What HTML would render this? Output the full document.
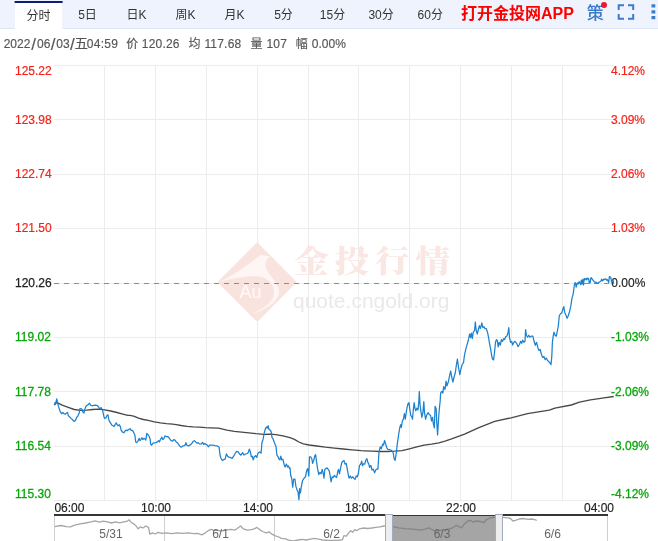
<!DOCTYPE html>
<html lang="zh-CN">
<head>
<meta charset="utf-8">
<title>分时图</title>
<style>
html,body{margin:0;padding:0;background:#fff;}
body{width:658px;height:541px;overflow:hidden;position:relative;font-family:"Liberation Sans","Noto Sans CJK SC",sans-serif;}
#tabs{position:absolute;left:0;top:0;width:658px;height:28px;background:#eef3fd;border-bottom:1px solid #dde6f6;}
.tab{position:absolute;top:0;height:28px;width:49px;text-align:center;font-size:12px;line-height:30px;color:#333;}
.tab.on{height:27px;line-height:27px;top:3px;width:48px;left:14.6px;}
#app{position:absolute;left:461px;top:0;height:28px;line-height:27px;font-size:16px;font-weight:bold;color:#f00;white-space:nowrap;}
#ce{position:absolute;left:586.8px;top:0;height:28px;line-height:27.5px;font-size:17px;font-weight:500;color:#3c7bc9;}
#dot{position:absolute;left:601px;top:2px;width:6px;height:6px;border-radius:50%;background:#f0142d;}
svg{position:absolute;left:0;top:0;will-change:transform;}
#tabs{will-change:transform;}
</style>
</head>
<body>
<div id="tabs">
  <svg width="80" height="30" viewBox="0 0 80 30" style="will-change:auto"><rect x="14.1" y="1" width="49" height="28" fill="#dfe6f6"/><rect x="14.6" y="1" width="48" height="29" fill="#fff"/><rect x="14.6" y="1" width="48" height="2" fill="#0a1f7a"/></svg>
  <div class="tab on">分时</div>
  <div class="tab" style="left:63px">5日</div>
  <div class="tab" style="left:112px">日K</div>
  <div class="tab" style="left:161px">周K</div>
  <div class="tab" style="left:210px">月K</div>
  <div class="tab" style="left:259px">5分</div>
  <div class="tab" style="left:308px">15分</div>
  <div class="tab" style="left:356.6px">30分</div>
  <div class="tab" style="left:405.8px">60分</div>
  <div id="app">打开金投网APP</div>
  <div id="ce">策</div>
  <div id="dot"></div>
</div>

<svg id="chart" width="658" height="541" viewBox="0 0 658 541" font-family="Liberation Sans, Noto Sans CJK SC, sans-serif" font-size="12">
  <!-- info row -->
  <g fill="#555" stroke="#555" stroke-width="0.15">
    <text><tspan x="3.7" y="48">2022</tspan><tspan x="31.3" y="49.6" font-size="17">/</tspan><tspan x="37" y="48">06</tspan><tspan x="50.7" y="49.6" font-size="17">/</tspan><tspan x="56.3" y="48">03</tspan><tspan x="70" y="49.6" font-size="17">/</tspan><tspan x="74.6" y="48.4" font-size="13.5">五</tspan><tspan x="86.8" y="48" letter-spacing="0.25">04:59</tspan></text>
    <text><tspan x="126.2" y="48">价</tspan><tspan x="141.8" y="48" letter-spacing="0.2">120.26</tspan></text>
    <text><tspan x="188.5" y="48">均</tspan><tspan x="204.4" y="48" letter-spacing="0.2">117.68</tspan></text>
    <text><tspan x="250.5" y="48">量</tspan><tspan x="266.4" y="48" letter-spacing="0.2">107</tspan></text>
    <text><tspan x="295.7" y="48">幅</tspan><tspan x="311.8" y="48">0.00%</tspan></text>
  </g>
  <!-- toolbar icons -->
  <g fill="none" stroke="#3c7bc9" stroke-width="2">
    <path d="M618.7 10V5.3H624M628 5.3H633.2V10M633.2 14V18.8H628M624 18.8H618.7V14"/>
  </g>
  <g fill="#3c7bc9"><rect x="651.5" y="4.3" width="3.8" height="3.2"/><rect x="651.5" y="10.3" width="3.8" height="3.2"/><rect x="651.5" y="16" width="3.8" height="3.2"/></g>
  <!-- grid -->
  <g id="grid" fill="#ececec"><rect x="53.5" y="65" width="560.2" height="1"/><rect x="53.5" y="119" width="560.2" height="1"/><rect x="53.5" y="174" width="560.2" height="1"/><rect x="53.5" y="228" width="560.2" height="1"/><rect x="53.5" y="283" width="560.2" height="1"/><rect x="53.5" y="337" width="560.2" height="1"/><rect x="53.5" y="391" width="560.2" height="1"/><rect x="53.5" y="446" width="560.2" height="1"/><rect x="53.5" y="500" width="560.2" height="1"/><rect x="104" y="65" width="1" height="436"/><rect x="155" y="65" width="1" height="436"/><rect x="206" y="65" width="1" height="436"/><rect x="257" y="65" width="1" height="436"/><rect x="308" y="65" width="1" height="436"/><rect x="358" y="65" width="1" height="436"/><rect x="409" y="65" width="1" height="436"/><rect x="460" y="65" width="1" height="436"/><rect x="511" y="65" width="1" height="436"/><rect x="562" y="65" width="1" height="436"/></g>
  <!-- watermark -->
  <g id="wm">
    <path d="M255.6 243.8 Q257.2 242.4 258.8 243.8 L295.2 280.6 Q296.6 282.2 295.2 283.8 L258.8 320.6 Q257.2 322 255.6 320.6 L219 283.8 Q217.6 282.2 219 280.6 Z" fill="#f9e3df"/>
    <path d="M219.7 281.8 C233.9 275.3 248 265.1 260.6 254.9 L270 256.2 C266.1 259.6 264.5 263.6 266.1 268.3 C268.4 274.6 276.3 280.8 279.1 290.3 C280.2 299.7 268.4 309.1 251.9 314.2 C265.3 307.6 274.4 301.3 274.1 291.8 C273.8 284 268.4 277.7 259 276.4 C246.4 275.5 232.3 278.5 219.7 281.8 Z" fill="#fef6f4"/>
    <text x="239.6" y="297.5" font-size="18" fill="#fffaf9">Au</text>
    <text transform="translate(294 272.2) scale(1.05 0.93)" x="0" y="0" font-family="Noto Serif CJK SC, Noto Sans CJK SC, serif" font-weight="900" font-size="33" letter-spacing="5.6" fill="#fae6e2">金投行情</text>
    <text x="293" y="307.5" font-size="21" fill="#e9e9e9">quote.cngold.org</text>
  </g>
  <path d="M54 283.5H611" stroke="#8c8c8c" stroke-dasharray="5 5" stroke-width="1" shape-rendering="crispEdges"/>
  <!-- left labels -->
  <g fill="#f5221a" stroke="#f5221a" stroke-width="0.2">
    <text x="15" y="75">125.22</text>
    <text x="15" y="124">123.98</text>
    <text x="15" y="178">122.74</text>
    <text x="15" y="232">121.50</text>
  </g>
  <text x="15" y="287" fill="#222" stroke="#222" stroke-width="0.25">120.26</text>
  <g fill="#0aa50a" stroke="#0aa50a" stroke-width="0.28">
    <text x="15" y="341">119.02</text>
    <text x="15" y="396">117.78</text>
    <text x="15" y="450">116.54</text>
    <text x="15" y="498">115.30</text>
  </g>
  <!-- right labels -->
  <g fill="#f5221a" stroke="#f5221a" stroke-width="0.2">
    <text x="611" y="75">4.12%</text>
    <text x="611" y="124">3.09%</text>
    <text x="611" y="178">2.06%</text>
    <text x="611" y="232">1.03%</text>
  </g>
  <text x="611.3" y="287" fill="#222" stroke="#222" stroke-width="0.15">0.00%</text>
  <g fill="#0aa50a" stroke="#0aa50a" stroke-width="0.28">
    <text x="611" y="341">-1.03%</text>
    <text x="611" y="396">-2.06%</text>
    <text x="611" y="450">-3.09%</text>
    <text x="611" y="498">-4.12%</text>
  </g>
  <!-- x labels -->
  <g fill="#222" stroke="#222" stroke-width="0.15">
    <text x="54.4" y="512">06:00</text>
    <text x="156" y="512" text-anchor="middle">10:00</text>
    <text x="258" y="512" text-anchor="middle">14:00</text>
    <text x="360" y="512" text-anchor="middle">18:00</text>
    <text x="461" y="512" text-anchor="middle">22:00</text>
    <text x="614" y="512" text-anchor="end">04:00</text>
  </g>
  <!-- series -->
  <path d="M54.5 404.0 L56.1 402.2 L62.2 405.2 L68.2 407.4 L74.3 409.5 L80.4 410.3 L86.5 410.1 L92.6 409.5 L98.6 409.2 L104.7 409.8 L110.8 411.0 L116.9 412.5 L122.9 414.1 L127.8 415.3 L130.0 415.4 L133.6 416.2 L138.5 418.2 L143.4 419.5 L148.2 420.4 L154.3 421.9 L160.4 422.9 L166.5 423.6 L172.6 424.1 L176.2 424.6 L181.1 425.5 L187.1 426.3 L193.2 426.9 L199.3 427.2 L205.4 427.7 L210.0 427.9 L218.5 428.2 L227.0 430.1 L234.3 431.3 L241.6 432.1 L248.9 432.9 L256.2 433.7 L263.5 434.3 L270.8 434.1 L275.7 434.6 L282.9 435.9 L290.0 437.6 L294.4 439.3 L298.9 442.0 L303.3 443.8 L309.2 445.0 L316.6 446.0 L325.5 447.2 L334.4 448.2 L343.2 449.0 L352.1 449.8 L361.0 450.7 L365.0 450.9 L372.4 451.2 L379.8 451.5 L387.2 451.5 L394.6 451.2 L402.0 450.6 L409.4 448.8 L416.8 446.9 L424.1 445.1 L431.5 444.1 L438.9 442.9 L445.0 441.2 L450.9 439.2 L464.6 434.2 L478.3 427.9 L494.7 421.4 L511.1 417.8 L527.5 413.7 L549.4 410.2 L554.9 408.2 L571.3 405.0 L579.5 402.2 L590.4 399.8 L604.1 397.9 L613.7 396.5" fill="none" stroke="#484848" stroke-width="1.35" stroke-linejoin="round"/>
  <path d="M54.3 405.2 L55.1 402.8 L55.6 404.5 L56.7 398.8 L57.5 402.2 L58.5 406.4 L60.3 411.9 L61.5 413.7 L62.8 412.5 L64.0 413.7 L65.2 414.3 L66.4 413.1 L67.6 412.5 L68.2 415.5 L69.5 416.7 L71.3 418.6 L72.5 419.8 L74.0 421.4 L75.5 420.2 L76.7 417.4 L78.2 415.3 L79.2 413.1 L79.8 408.8 L81.0 408.5 L81.9 409.2 L82.8 411.9 L84.0 413.1 L84.7 409.5 L85.9 406.4 L87.1 405.2 L88.3 404.6 L89.5 403.1 L90.7 405.2 L91.9 405.8 L93.8 405.4 L95.6 405.2 L97.4 405.6 L98.6 407.0 L99.8 408.8 L101.1 407.6 L102.3 409.5 L103.3 413.7 L104.1 417.4 L105.0 418.6 L105.9 418.0 L106.9 415.5 L108.0 414.9 L108.7 419.2 L109.6 421.6 L110.8 423.4 L112.0 425.3 L113.2 425.9 L114.1 426.5 L115.0 424.7 L116.3 422.8 L117.1 424.7 L118.1 425.9 L119.3 424.7 L120.3 426.5 L121.1 430.1 L122.3 431.9 L123.8 432.8 L124.8 431.3 L126.0 430.1 L127.2 430.7 L128.4 429.5 L129.6 429.1 L130.0 428.6 L131.2 430.4 L132.4 430.4 L133.6 432.2 L134.9 435.3 L135.7 441.9 L136.7 442.6 L137.9 441.3 L139.1 438.3 L140.0 440.7 L140.9 439.5 L141.9 437.7 L142.8 439.5 L144.0 438.3 L144.8 438.9 L145.8 440.1 L146.8 433.4 L148.0 434.7 L149.2 436.5 L150.1 438.9 L150.7 444.4 L151.6 445.2 L153.1 443.2 L154.3 442.8 L156.1 442.6 L157.4 441.9 L158.6 440.7 L159.4 441.9 L160.4 439.5 L161.9 437.1 L162.8 439.5 L163.8 438.9 L164.9 435.9 L165.9 436.5 L167.7 436.5 L168.9 437.7 L170.1 439.5 L171.3 440.7 L172.6 441.1 L173.8 439.5 L175.0 440.1 L176.2 441.9 L177.4 442.8 L178.6 444.4 L179.8 446.2 L181.1 447.2 L182.3 446.2 L184.1 445.6 L185.3 445.0 L185.9 442.6 L186.9 445.2 L188.4 446.0 L189.6 445.2 L190.8 444.7 L192.0 443.2 L193.2 441.3 L194.4 440.7 L195.7 441.9 L196.9 443.2 L198.1 442.8 L199.3 443.8 L201.1 444.0 L202.6 442.3 L203.6 444.4 L204.8 443.5 L206.0 444.4 L207.2 445.0 L208.4 446.8 L209.6 445.0 L210.0 445.0 L212.4 445.0 L214.9 445.6 L217.3 445.9 L219.1 447.1 L220.0 455.0 L220.9 458.0 L222.2 460.5 L223.6 459.6 L225.2 459.2 L226.4 453.8 L227.6 456.2 L228.8 457.2 L230.7 457.7 L232.1 458.4 L233.7 456.2 L235.3 453.2 L236.7 451.3 L238.2 451.9 L239.4 453.8 L241.0 455.2 L242.6 452.6 L244.0 455.0 L245.5 454.0 L247.1 453.5 L248.3 452.6 L249.3 449.1 L250.4 451.9 L251.3 456.8 L252.3 456.2 L253.2 459.8 L254.4 456.8 L255.6 455.6 L256.8 457.4 L258.0 453.2 L259.6 451.9 L261.1 453.2 L261.9 442.8 L263.1 439.2 L264.3 432.5 L265.6 428.2 L266.5 427.0 L267.4 428.2 L268.1 425.6 L269.0 429.5 L270.2 430.1 L271.2 431.9 L272.0 437.4 L273.2 439.2 L274.4 442.8 L276.0 446.5 L276.9 455.0 L278.1 456.8 L279.1 459.2 L279.9 459.8 L280.8 456.2 L281.7 459.8 L282.9 459.2 L284.2 464.7 L285.1 467.1 L286.4 464.1 L287.6 467.1 L288.4 465.9 L289.6 468.4 L290.0 467.9 L290.7 475.3 L291.8 479.0 L292.7 487.1 L293.7 479.0 L294.9 479.0 L295.9 486.4 L297.1 490.1 L298.1 492.3 L298.9 499.7 L299.6 488.6 L300.4 493.0 L301.5 485.6 L302.6 480.5 L304.0 478.2 L305.5 476.8 L306.6 470.8 L307.7 468.6 L308.8 476.0 L309.5 456.8 L310.7 456.8 L311.9 459.0 L312.6 463.4 L313.7 460.5 L314.7 456.1 L315.6 454.6 L316.6 462.0 L317.7 469.4 L318.8 474.5 L320.0 472.3 L321.1 473.8 L322.2 469.4 L323.3 473.8 L324.0 478.2 L324.8 469.4 L325.9 468.6 L327.0 467.9 L328.2 469.4 L329.2 470.8 L330.2 476.0 L331.1 481.9 L332.1 476.8 L333.3 477.5 L334.4 475.3 L335.5 476.8 L336.6 477.5 L337.6 472.3 L338.5 469.4 L339.5 473.8 L340.6 467.9 L341.8 462.7 L342.9 461.2 L344.0 460.5 L345.0 464.2 L346.2 463.4 L347.2 468.6 L348.4 475.3 L349.1 478.2 L350.3 476.0 L351.4 478.2 L352.6 476.8 L353.9 478.2 L355.1 479.4 L356.2 476.0 L357.3 476.8 L358.3 473.8 L359.5 465.7 L360.7 464.2 L361.7 461.2 L362.5 465.7 L363.6 463.7 L364.7 464.2 L365.7 460.5 L366.9 458.7 L367.9 462.7 L368.6 463.5 L369.6 467.3 L370.9 465.4 L372.0 470.0 L373.3 469.1 L374.6 472.8 L375.7 470.0 L377.0 469.1 L377.9 469.1 L378.9 453.4 L380.2 446.9 L381.3 448.8 L382.6 444.1 L383.5 445.1 L384.6 440.5 L385.7 444.1 L386.8 447.8 L388.1 449.7 L390.0 449.7 L391.8 450.6 L393.1 452.5 L394.2 458.9 L395.1 460.4 L396.1 454.3 L397.3 444.1 L398.6 434.9 L399.8 427.5 L400.7 424.7 L401.4 427.5 L402.3 421.0 L403.4 419.2 L404.4 413.7 L405.3 419.2 L406.2 412.7 L407.1 407.2 L408.1 403.5 L409.0 402.6 L409.9 410.0 L410.8 415.5 L411.6 416.4 L412.5 419.2 L413.4 409.0 L414.2 402.6 L414.9 408.1 L415.8 410.9 L416.8 408.1 L418.0 410.0 L418.8 401.6 L419.3 391.5 L420.1 405.3 L421.0 411.8 L421.9 417.3 L422.9 412.7 L423.8 401.6 L424.5 412.7 L425.6 419.2 L426.9 414.6 L428.2 412.7 L429.3 414.6 L430.6 415.5 L431.5 421.0 L432.5 417.3 L433.4 423.8 L434.3 427.9 L435.1 406.3 L436.2 409.0 L436.7 422.0 L437.6 434.9 L438.6 418.3 L439.3 409.0 L440.2 400.7 L440.6 393.2 L441.8 391.3 L442.8 393.2 L443.7 386.7 L445.0 389.5 L446.1 381.2 L447.0 385.8 L448.3 382.1 L449.6 375.6 L450.7 371.0 L451.6 376.5 L452.9 382.1 L454.2 376.5 L455.3 372.8 L456.3 365.5 L457.4 359.0 L458.5 367.3 L459.8 374.7 L460.9 369.1 L462.2 364.5 L463.5 362.7 L464.6 354.4 L465.9 348.8 L467.2 344.2 L468.3 340.5 L469.6 334.0 L470.5 337.7 L471.4 333.1 L472.3 338.7 L473.3 332.2 L474.6 330.3 L475.3 322.0 L476.2 330.3 L477.3 334.0 L478.4 329.4 L479.4 325.7 L480.3 328.5 L481.0 326.6 L481.8 322.9 L482.9 327.6 L484.0 326.6 L484.9 328.5 L486.2 328.5 L487.5 332.2 L488.6 337.7 L489.5 343.3 L490.6 348.8 L491.6 355.3 L492.5 359.0 L493.6 359.9 L494.5 352.5 L495.5 342.3 L496.4 339.6 L497.3 340.5 L498.2 346.9 L499.1 342.3 L500.3 345.1 L501.4 339.6 L502.5 341.4 L503.6 338.7 L504.7 339.6 L505.6 336.8 L506.9 335.9 L508.0 333.1 L508.8 327.6 L509.5 337.7 L510.6 342.3 L511.7 341.4 L512.6 345.1 L513.9 342.3 L515.0 341.3 L516.6 343.3 L518.1 346.7 L519.5 344.3 L520.7 341.3 L521.7 343.3 L522.7 340.2 L523.9 342.3 L525.0 341.3 L525.6 329.7 L526.4 335.2 L527.6 337.2 L528.8 335.2 L530.0 337.2 L531.3 336.2 L532.9 336.2 L534.1 341.3 L535.3 345.3 L536.6 342.3 L537.8 347.4 L539.0 350.4 L540.2 349.4 L541.4 354.5 L542.7 357.5 L543.9 356.5 L545.1 359.6 L546.3 358.1 L547.5 360.6 L548.8 361.6 L550.0 363.0 L551.0 364.6 L551.8 356.5 L552.4 342.3 L553.2 336.2 L554.0 332.1 L555.1 335.2 L556.3 336.2 L557.3 331.1 L558.3 326.0 L559.3 315.8 L560.5 313.8 L561.8 312.8 L563.0 308.7 L563.8 306.7 L564.8 312.8 L565.8 314.8 L567.1 318.3 L568.3 315.8 L569.5 311.8 L570.7 306.7 L571.9 298.6 L573.3 293.3 L574.0 287.5 L574.7 283.1 L575.5 282.8 L576.2 287.1 L576.9 284.6 L577.7 282.8 L578.4 283.9 L579.1 281.7 L579.8 282.8 L580.6 284.6 L581.3 280.2 L582.0 284.2 L582.8 279.5 L583.5 285.0 L584.2 278.4 L585.0 279.8 L585.7 278.8 L586.4 279.8 L587.1 278.0 L587.9 279.1 L588.6 278.4 L589.3 283.1 L590.1 282.8 L590.8 278.0 L591.5 277.7 L592.2 279.1 L593.0 280.2 L593.7 280.9 L594.4 282.0 L595.2 282.4 L595.9 282.0 L596.6 283.5 L597.7 283.1 L598.8 282.4 L599.9 281.7 L601.0 280.9 L601.7 279.1 L602.5 280.9 L603.2 280.2 L603.9 279.1 L604.6 279.5 L605.7 278.8 L606.5 280.2 L607.2 279.5 L607.9 280.6 L608.7 282.4 L609.4 276.6 L610.1 276.9 L610.8 277.7 L611.6 282.0 L612.3 280.2 L613.0 279.5 L613.6 283.9" fill="none" stroke="#1c82d0" stroke-width="1.25" stroke-linejoin="round"/>
  <!-- navigator -->
  <g id="nav">
    <rect x="392" y="516" width="104" height="25" fill="#a5a5a5"/>
    <g fill="#cfcfcf"><rect x="54" y="516" width="1" height="25"/><rect x="164" y="516" width="1" height="25"/><rect x="274" y="516" width="1" height="25"/><rect x="607" y="516" width="1" height="25"/></g>
    <path d="M54.9 526.6 L60.9 525.5 L66.4 526.6 L70.5 526.9 L74.6 525.2 L80.1 523.9 L85.6 523.0 L91.0 521.9 L95.1 520.8 L99.2 522.2 L103.3 521.1 L107.4 521.9 L111.5 523.0 L115.6 521.9 L119.7 522.8 L123.9 521.9 L127.4 521.1 L129.3 519.8 L131.2 522.5 L133.4 523.6 L136.2 526.0 L138.1 528.8 L140.3 526.9 L143.0 528.0 L145.7 526.0 L148.5 527.4 L149.8 534.2 L152.6 532.9 L155.3 534.0 L158.0 532.3 L162.1 533.4 L166.2 532.9 L171.7 533.7 L177.2 532.9 L182.7 533.4 L188.1 532.9 L193.6 533.7 L197.7 533.4 L201.8 534.8 L204.5 533.4 L208.1 530.7 L211.4 529.3 L214.1 530.7 L217.4 530.1 L220.0 531.0 L225.5 530.1 L230.9 529.3 L235.0 530.1 L237.8 528.0 L240.5 526.0 L243.2 528.8 L247.4 530.1 L251.5 529.6 L254.2 528.8 L256.9 527.4 L259.7 529.6 L262.4 531.5 L266.5 532.9 L269.2 531.8 L272.0 534.2 L274.7 535.6 L278.8 537.0 L281.5 538.4 L285.6 538.9 L289.7 540.5 L293.8 541.0 L297.9 540.0 L302.1 539.4 L306.2 540.0 L310.3 539.2 L314.4 538.4 L318.5 539.2 L322.6 540.0 L329.4 540.5 L337.6 540.5 L342.5 539.7 L343.9 535.6 L346.4 536.2 L348.6 532.9 L350.7 530.7 L352.7 532.3 L354.6 529.6 L356.8 530.7 L359.5 528.8 L363.6 528.0 L367.7 528.5 L371.8 528.0 L375.9 527.4 L380.0 526.9 L383.6 526.0 L386.0 525.8" fill="none" stroke="#a6a6a6" stroke-width="1.3" stroke-linejoin="round"/>
    <path d="M392.5 526.4 L393.0 526.6 L398.8 527.8 L405.1 528.6 L412.6 529.1 L420.1 530.1 L425.1 529.1 L428.9 527.8 L431.4 529.6 L433.9 530.3 L438.0 531.0 L442.0 530.2 L446.0 529.5 L449.5 528.8 L452.7 527.8 L456.5 525.3 L459.0 526.6 L461.5 527.8 L464.0 524.5 L467.8 521.0 L470.3 520.3 L472.8 522.0 L476.5 521.0 L480.3 521.5 L484.1 522.5 L486.6 519.5 L490.3 517.8 L494.1 517.3 L495.5 517.2" fill="none" stroke="#858585" stroke-width="1.3" stroke-linejoin="round"/>
    <path d="M502.5 517.3 L507.9 517.8 L510.4 518.5 L512.9 521.0 L515.4 520.3 L519.2 519.0 L522.9 518.5 L527.9 519.3 L531.7 519.0 L535.5 519.8 L536.7 520.5" fill="none" stroke="#a6a6a6" stroke-width="1.3" stroke-linejoin="round"/>
    <rect x="54" y="514" width="332" height="2" fill="#363636"/><rect x="502" y="514" width="106" height="2" fill="#363636"/><rect x="392" y="515" width="104" height="1" fill="#363636"/>
    <rect x="385.5" y="514.5" width="7" height="28" fill="#eee" stroke="#a3a9c0" stroke-width="1"/>
    <rect x="495.5" y="514.5" width="7" height="28" fill="#eee" stroke="#a3a9c0" stroke-width="1"/>
    <g fill="#666" text-anchor="middle">
      <text x="111" y="538">5/31</text>
      <text x="220.5" y="538">6/1</text>
      <text x="331.5" y="538">6/2</text>
      <text x="442" y="538">6/3</text>
      <text x="552.5" y="538">6/6</text>
    </g>
  </g>
</svg>
</body>
</html>
